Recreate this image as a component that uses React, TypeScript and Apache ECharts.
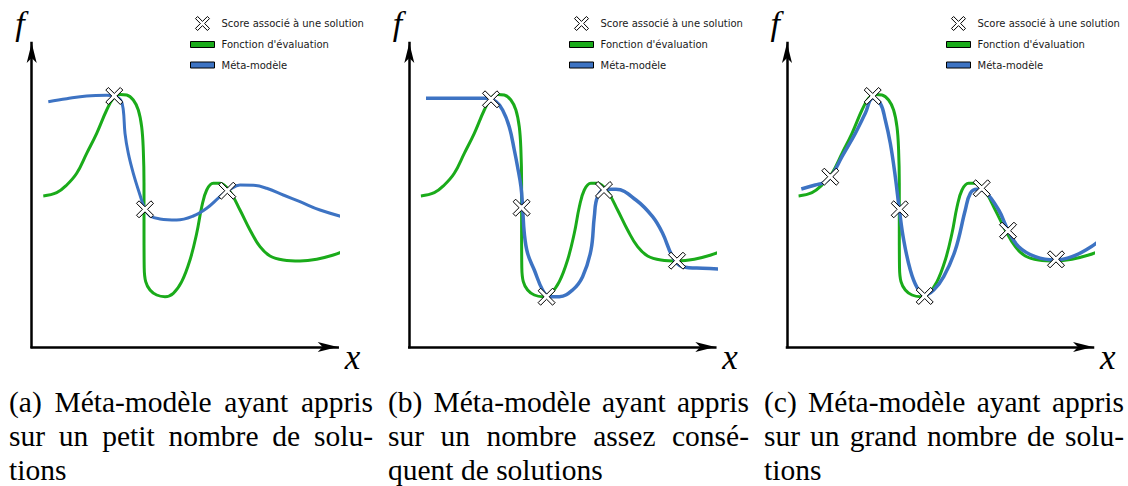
import React, { useEffect, useRef } from 'react';
import * as echarts from 'echarts';

// ---- Data (abstract units: x along the horizontal axis, f along the vertical axis) ----
const evalCurve: number[][] = [
  [11.6, 151], [25, 154.3], [35, 162], [45, 173.7], [55, 193.7], [65, 213.7], [75, 237],
  [81.6, 248.7], [88.3, 252.5], [95, 252], [101.6, 247], [106.6, 237], [110, 220],
  [111.6, 197], [112.3, 163.7], [112.3, 113.7], [112.5, 80], [114, 65.3], [118.3, 57],
  [125, 52], [133.3, 50.3], [141.6, 53.7], [150, 65.3], [158.3, 87], [165, 113.7],
  [170, 140], [175, 157], [181.6, 163.7], [188.3, 163.7], [198.3, 155.3], [208.3, 137],
  [218.3, 117], [228.3, 100.3], [238.3, 91], [251.6, 87], [268.3, 86], [285, 87.7],
  [301.6, 92], [313.3, 96.3],
];

const metaA: number[][] = [
  [16.6, 245.3], [35, 248.3], [55, 251], [75, 251.7], [83.3, 250.3], [89, 247], [91.6, 237],
  [93.3, 213.7], [96.6, 193.7], [101.6, 173.7], [108.3, 152], [113.3, 137.7], [118.3, 131],
  [128.3, 128], [145, 127], [161.6, 131], [175, 138.7], [188.3, 150.3], [198.3, 157.7],
  [208.3, 162], [221.6, 161.7], [235, 158.7], [251.6, 152], [268.3, 145.3], [288.3, 137],
  [316.6, 128.7],
];

const metaB: number[][] = [
  [16.7, 248.7], [50, 248.7], [76.7, 248.7], [86.7, 245.3], [93.3, 237], [100, 220],
  [105, 197], [108.3, 180], [111.7, 160], [113.3, 140], [115, 113.7], [118.3, 93.7],
  [125, 77], [133.3, 57], [140, 50.3], [150, 50.3], [163.3, 57], [173.3, 70.3],
  [181.7, 97], [185, 130.3], [188.3, 150.3], [196.7, 157.7], [206.7, 157.7], [226.7, 147],
  [243.3, 130.3], [253.3, 113.7], [263.3, 90.3], [273.3, 80.3], [293.3, 78.7], [326.7, 77.7],
];

const metaC: number[][] = [
  [14.3, 158], [28.3, 162], [36.7, 164.3], [44, 170.3], [55, 190.3], [68.3, 213.7],
  [78.3, 233.7], [85.7, 248.7], [93.3, 243.7], [98.3, 227], [103.3, 203.7], [108.3, 170.3],
  [112.3, 137.7], [116.7, 107], [123.3, 77], [130, 59.7], [137.7, 52], [146.7, 57],
  [156.7, 70.3], [168.3, 97], [178.3, 137], [183.3, 153.7], [190, 157.7], [198.3, 155.3],
  [211.7, 137], [221, 117], [231.7, 100.3], [248.3, 90.3], [268.3, 87], [285, 90.3],
  [301.7, 98.7], [313.3, 107],
];

const scoresA: number[][] = [[82.6, 251], [113.3, 137.7], [195.6, 156.3]];
const scoresB: number[][] = [[81.7, 247.7], [112.3, 139.3], [137.3, 50.3], [194.7, 157], [267.7, 86.3]];
const scoresC: number[][] = [
  [43.3, 170.3], [85.7, 251], [112.7, 137.7], [137.7, 51], [194.7, 158.7], [221, 116.3], [269, 87.7],
];

const metaSets = [metaA, metaB, metaC];
const scoreSets = [scoresA, scoresB, scoresC];

const nameScore = 'Score associé à une solution';
const nameEval = "Fonction d'évaluation";
const nameMeta = 'Méta-modèle';
const xLabel = 'x';
const fLabel = 'f';

const captions: string[][] = [
  ['(a) Méta-modèle ayant appris', 'sur un petit nombre de solu-', 'tions'],
  ['(b) Méta-modèle ayant appris', 'sur un nombre assez consé-', 'quent de solutions'],
  ['(c) Méta-modèle ayant appris', 'sur un grand nombre de solu-', 'tions'],
];

// ---- Layout / style ----
const GREEN = '#1aab1a';
const BLUE = '#3d73c3';
const panelLeft = [31.7, 409.3, 787];
const AXIS_LEN = 306;
const legendLeft = [190, 569, 946];
const captionLeft = [9, 388, 764];
const captionWidth = [364, 361, 360];
const metaWidth = [3, 3.5, 3.5];
const CAP_SIZE = 29.5;
const CAP_FONT = 'Liberation Serif';
const X_PATH = 'path://M0,3L3,0L10,7L17,0L20,3L13,10L20,17L17,20L10,13L3,20L0,17L7,10Z';
const RECT_PATH = 'path://M0,0H24V6H0Z';

export default function App() {
  const ref = useRef<HTMLDivElement>(null);

  useEffect(() => {
    if (!ref.current) return;
    const chart = echarts.init(ref.current, undefined, { renderer: 'svg' });

    const grids: any[] = [];
    const xAxes: any[] = [];
    const yAxes: any[] = [];
    const series: any[] = [];
    const legends: any[] = [];
    const graphics: any[] = [];

    const axisLine = {
      show: true,
      symbol: ['none', 'arrow'],
      symbolSize: [7.5, 20],
      lineStyle: { color: '#000', width: 2.5, cap: 'square' },
    };
    const mathFont = {
      fontFamily: 'Liberation Serif',
      fontStyle: 'italic',
      fontSize: 34,
      color: '#000',
    };

    for (let i = 0; i < 3; i++) {
      grids.push({ left: panelLeft[i], top: 43, width: AXIS_LEN, height: 304, containLabel: false });
      xAxes.push({
        type: 'value', gridIndex: i, min: 0, max: AXIS_LEN,
        axisLine, axisTick: { show: false }, axisLabel: { show: false }, splitLine: { show: false },
      });
      yAxes.push({
        type: 'value', gridIndex: i, min: 0, max: 304,
        axisLine, axisTick: { show: false }, axisLabel: { show: false }, splitLine: { show: false },
        name: fLabel, nameLocation: 'end', nameGap: 20,
        nameTextStyle: { ...mathFont, align: 'right', verticalAlign: 'middle', padding: [0, 7, 0, 0] },
      });
      // x-axis name placed just past the arrow tip
      graphics.push({
        type: 'text', x: panelLeft[i] + AXIS_LEN + 7, y: 357, silent: true,
        style: {
          text: xLabel, fontSize: 35, fontFamily: 'Liberation Serif', fontStyle: 'italic', fill: '#000',
          align: 'left', verticalAlign: 'middle', textAlign: 'left', textVerticalAlign: 'middle',
        },
      });
      series.push({
        type: 'line', name: nameEval, xAxisIndex: i, yAxisIndex: i, data: evalCurve,
        smooth: 0.4, showSymbol: false, clip: false, z: 2,
        lineStyle: { color: GREEN, width: 3 }, itemStyle: { color: GREEN },
      });
      series.push({
        type: 'line', name: nameMeta, xAxisIndex: i, yAxisIndex: i, data: metaSets[i],
        smooth: 0.4, showSymbol: false, clip: false, z: 3,
        lineStyle: { color: BLUE, width: metaWidth[i] }, itemStyle: { color: BLUE },
      });
      series.push({
        type: 'scatter', name: nameScore, xAxisIndex: i, yAxisIndex: i, data: scoreSets[i],
        symbol: X_PATH, symbolSize: 17, clip: false, z: 5,
        itemStyle: { color: '#fff', borderColor: '#000', borderWidth: 1, opacity: 1 },
      });
      legends.push({
        orient: 'vertical', left: legendLeft[i], top: 16, padding: 0,
        itemWidth: 24, itemHeight: 14, itemGap: 6.5, selectedMode: false,
        textStyle: {
          fontFamily: 'DejaVu Sans', fontSize: 10, color: '#1a1a1a',
          padding: [0, 0, 0, 2], lineHeight: 14, height: 14,
        },
        data: [
          { name: nameScore, icon: X_PATH, itemStyle: { color: '#fff', borderColor: '#000', borderWidth: 1 } },
          { name: nameEval, icon: RECT_PATH, itemStyle: { color: GREEN, borderColor: '#000', borderWidth: 1 } },
          { name: nameMeta, icon: RECT_PATH, itemStyle: { color: BLUE, borderColor: '#000', borderWidth: 1 } },
        ],
      });
    }

    // captions: justified lines (all but the last), built word by word
    const canvas = document.createElement('canvas');
    const ctx = canvas.getContext('2d')!;
    ctx.font = `${CAP_SIZE}px "Liberation Serif"`;
    const capCenterY = [402, 436, 470];
    captions.forEach((lines, p) => {
      lines.forEach((line, li) => {
        const words = line.split(' ');
        const widths = words.map((w) => ctx.measureText(w).width);
        const total = widths.reduce((a, b) => a + b, 0);
        const justify = li < lines.length - 1 && words.length > 1;
        const gap = justify ? (captionWidth[p] - total) / (words.length - 1) : ctx.measureText(' ').width;
        let x = captionLeft[p];
        words.forEach((w, wi) => {
          graphics.push({
            type: 'text', x, y: capCenterY[li], silent: true,
            style: {
              text: w, fontSize: CAP_SIZE, fontFamily: CAP_FONT, fill: '#000',
              align: 'left', verticalAlign: 'middle', textAlign: 'left', textVerticalAlign: 'middle',
            },
          });
          x += widths[wi] + gap;
        });
      });
    });

    chart.setOption({
      animation: false,
      backgroundColor: '#fff',
      grid: grids,
      xAxis: xAxes,
      yAxis: yAxes,
      legend: legends,
      series,
      graphic: { elements: graphics },
    });

    return () => chart.dispose();
  }, []);

  return <div ref={ref} style={{ position: 'fixed', left: 0, top: 0, width: 1128, height: 486 }} />;
}
